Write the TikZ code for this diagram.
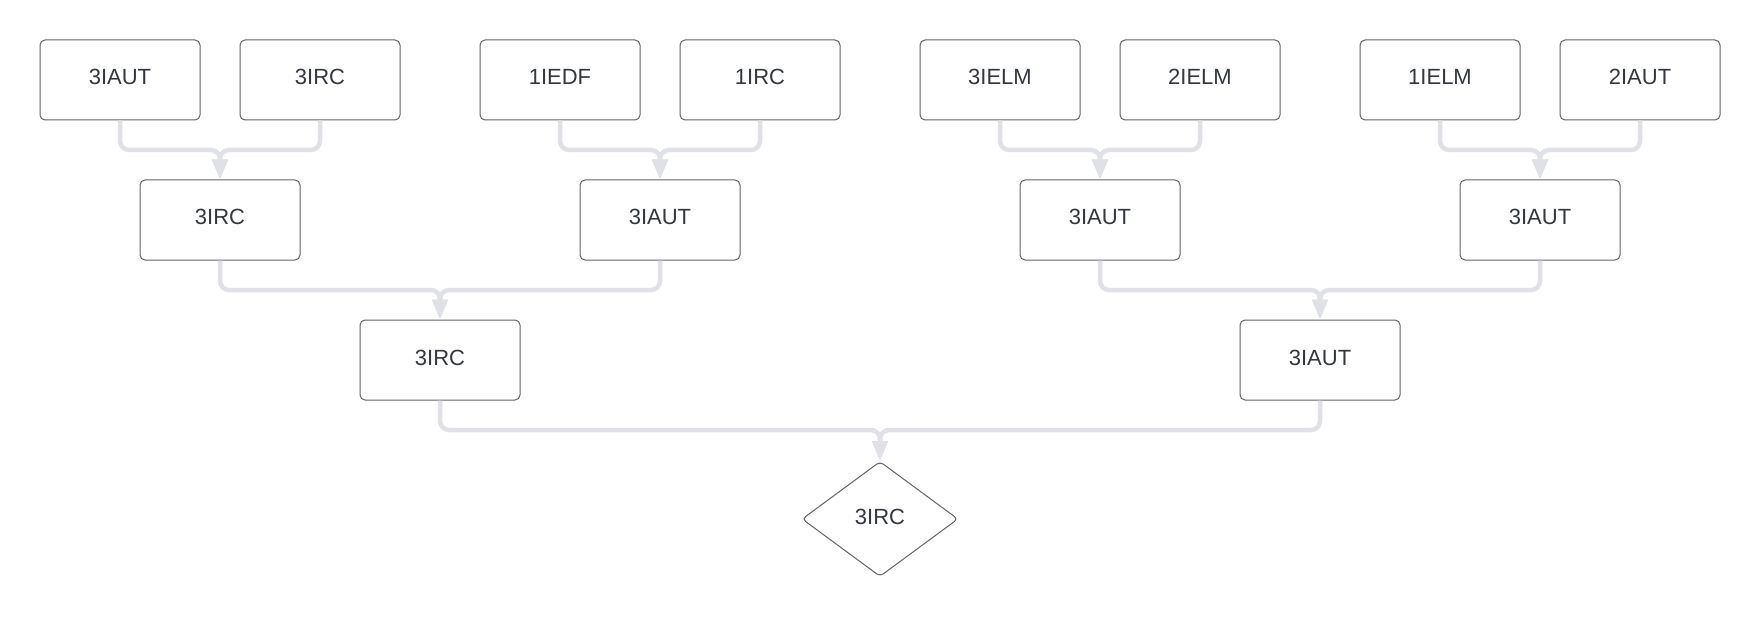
\documentclass[tikz,border=0pt]{standalone}
\usepackage{fontspec}
\setmainfont{Liberation Sans}
\usetikzlibrary{arrows.meta,shapes.geometric}
\definecolor{edgec}{HTML}{DFE1E6}
\definecolor{borderc}{HTML}{5F6368}
\definecolor{textc}{HTML}{333840}
\begin{document}
\begin{tikzpicture}[x=1pt,y=1pt,
  box/.style={draw=borderc, line width=1pt, rounded corners=5pt, minimum width=160pt, minimum height=80pt,
    inner sep=0pt, text=textc, font=\fontsize{22}{26}\selectfont, text height=15.5pt, text depth=5.5pt},
  dia/.style={diamond, draw=borderc, line width=1pt, rounded corners=4pt, minimum width=156pt, minimum height=115pt,
    inner sep=0pt, text=textc, font=\fontsize{22}{26}\selectfont, text height=15.5pt, text depth=5.5pt},
  conn/.style={draw=edgec, line width=4.5pt, rounded corners=9pt, -{Triangle[width=15pt,length=20pt]}}]
\useasboundingbox (0,0) rectangle (1760,-620);
% row 1
\node[box] (a1) at (120,-80) {3IAUT};
\node[box] (a2) at (320,-80) {3IRC};
\node[box] (a3) at (560,-80) {1IEDF};
\node[box] (a4) at (760,-80) {1IRC};
\node[box] (a5) at (1000,-80) {3IELM};
\node[box] (a6) at (1200,-80) {2IELM};
\node[box] (a7) at (1440,-80) {1IELM};
\node[box] (a8) at (1640,-80) {2IAUT};
% row 2
\node[box] (b1) at (220,-220) {3IRC};
\node[box] (b2) at (660,-220) {3IAUT};
\node[box] (b3) at (1100,-220) {3IAUT};
\node[box] (b4) at (1540,-220) {3IAUT};
% row 3
\node[box] (c1) at (440,-360) {3IRC};
\node[box] (c2) at (1320,-360) {3IAUT};
% final
\node[dia] (d) at (880,-519) {3IRC};
% connectors
\foreach \s/\t in {a1/b1,a2/b1,a3/b2,a4/b2,a5/b3,a6/b3,a7/b4,a8/b4}
  \draw[conn] (\s.south) -- (\s.south |- 0,-150) -| (\t.north);
\foreach \s/\t in {b1/c1,b2/c1,b3/c2,b4/c2}
  \draw[conn] (\s.south) -- (\s.south |- 0,-290) -| (\t.north);
\foreach \s in {c1,c2}
  \draw[conn] (\s.south) -- (\s.south |- 0,-430) -| (d.north);
\end{tikzpicture}
\end{document}
